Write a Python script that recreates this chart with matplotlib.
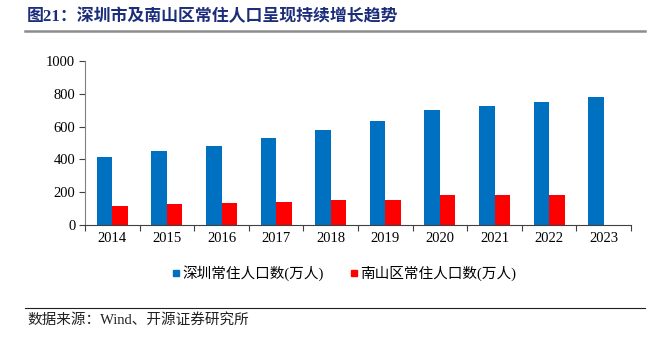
import numpy as np
import matplotlib
matplotlib.use("Agg")
import matplotlib.pyplot as plt
from matplotlib.lines import Line2D

plt.rcParams['font.family'] = ['Liberation Serif', 'Noto Sans CJK SC']

years = ["2014", "2015", "2016", "2017", "2018", "2019", "2020", "2021", "2022", "2023"]
shenzhen = [412, 449, 484, 528, 580, 635, 702, 727, 749, 779]
nanshan = [114, 129, 135, 143, 151, 155, 182, 182, 182, np.nan]

title = "图21：深圳市及南山区常住人口呈现持续增长趋势"
label_sz = "深圳常住人口数(万人)"
label_ns = "南山区常住人口数(万人)"
source = "数据来源：Wind、开源证券研究所"

BLUE = "#0070C0"
RED = "#FF0000"

fig = plt.figure(figsize=(6.51, 3.37), dpi=100)
W, H = 651, 337

# plot area: x 85..631, y 61..225 (pixels)
ax = fig.add_axes([85 / W, 1 - 225 / H, (631 - 85) / W, (225 - 61) / H])

x = np.arange(len(years))
bw = 0.285
ax.bar(x - bw / 2, shenzhen, width=bw, color=BLUE, label=label_sz)
ax.bar(x + bw / 2, nanshan, width=bw, color=RED, label=label_ns)

ax.set_xlim(-0.5, len(years) - 0.5)
ax.set_ylim(0, 1000)
ax.set_yticks(range(0, 1001, 200))

# year labels centered, ticks at category boundaries
ax.set_xticks(np.arange(-0.5, len(years), 1.0))
ax.set_xticklabels([])
ax.tick_params(axis='x', which='major', direction='out', length=4, color="#404040", width=0.8)
ax.set_xticks(x, minor=True)
ax.set_xticklabels(years, minor=True, fontsize=10.5)
ax.tick_params(axis='x', which='minor', length=0, pad=5)
ax.tick_params(axis='y', direction='out', length=4, color="#404040", width=0.8, labelsize=10.5, pad=3)

for s in ["top", "right"]:
    ax.spines[s].set_visible(False)
ax.spines["left"].set_color("#808080")
ax.spines["bottom"].set_color("#404040")
ax.spines["left"].set_linewidth(0.8)
ax.spines["bottom"].set_linewidth(0.8)

# legend
handles = [
    Line2D([], [], marker='s', linestyle='none', color=BLUE, markersize=5),
    Line2D([], [], marker='s', linestyle='none', color=RED, markersize=5),
]
fig.legend(handles, [label_sz, label_ns], loc='center', bbox_to_anchor=(344 / W, 1 - 273 / H),
           ncol=2, frameon=False, fontsize=10.5, handletextpad=0.1, columnspacing=1.8,
           handlelength=0.6)

# title & separators
fig.text(27 / W, 1 - 17 / H, title, fontsize=12.2, fontweight='bold', color="#1C2E7A",
         ha='left', va='center')
fig.add_artist(Line2D([25 / W, 645 / W], [1 - 31 / H, 1 - 31 / H], color="#8C8C8C", lw=1.8))
fig.add_artist(Line2D([25 / W, 645 / W], [1 - 308 / H, 1 - 308 / H], color="#202020", lw=0.8))
fig.text(27 / W, 1 - 320 / H, source, fontsize=10.5, color="#202020", ha='left', va='center')

fig.savefig("out.png", dpi=100)
